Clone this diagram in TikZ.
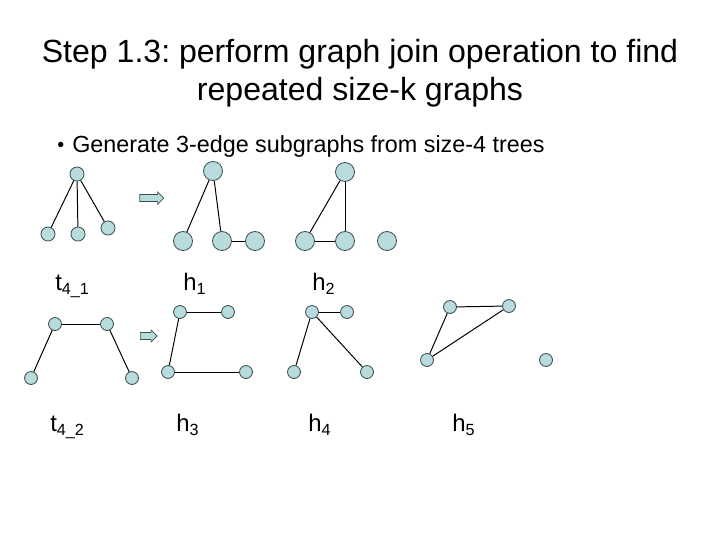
\documentclass[tikz,border=0pt]{standalone}
\usepackage{fontspec}
\setmainfont{Liberation Sans}
\frenchspacing
\usetikzlibrary{positioning,shapes.arrows}
\definecolor{vfill}{RGB}{184,220,222}
\definecolor{vline}{RGB}{60,78,80}
\tikzset{
  vtx/.style={circle,draw=vline,fill=vfill,line width=0.6pt,minimum size=10pt,inner sep=0pt},
  bigvtx/.style={vtx,minimum size=13.5pt},
  smallvtx/.style={vtx,minimum size=9.2pt},
  edge/.style={line width=0.7pt},
  lbl/.style={anchor=base west,inner sep=0pt,font=\fontsize{17}{20}\selectfont},
  joinarrow/.style={single arrow,draw=vline,fill=vfill,line width=0.5pt,inner sep=2.3pt,single arrow head extend=1.8pt}
}
\newcommand{\subtx}[1]{\raisebox{-0.35ex}{\fontsize{11.5}{13}\selectfont #1}}
\begin{document}
\begin{tikzpicture}[x=0.025cm,y=-0.025cm]
  \useasboundingbox (0,0) rectangle (720,540);
  % title and bullet line
  \node[align=center,font=\fontsize{22.8}{27}\selectfont,anchor=base] (title) at (360,100) {Step 1.3: perform graph join operation to find\\repeated size-k graphs};
  \node[anchor=base west,inner sep=0pt,font=\fontsize{14}{20}\selectfont] (bul) at (57,151) {\textbullet};
  \node[anchor=base west,inner sep=0pt,font=\fontsize{16.6}{20}\selectfont] (gen) at (72,152) {Generate 3-edge subgraphs from size-4 trees};
  % t4_1 -> h1, h2
  \node[vtx] (a0) at (77,174) {}; \node[vtx] (a1) at (48,234) {}; \node[vtx] (a2) at (78,234) {}; \node[vtx] (a3) at (108,228) {};
  \draw[edge] (a0) -- (a1); \draw[edge] (a0) -- (a2); \draw[edge] (a0) -- (a3);
  \node[joinarrow,minimum height=17pt] (arr1) at (150,198) {};
  \node[bigvtx] (b0) at (213,171) {}; \node[bigvtx] (b1) at (183,241) {}; \node[bigvtx] (b2) at (222,241) {}; \node[bigvtx] (b3) at (255,241) {};
  \draw[edge] (b0) -- (b1); \draw[edge] (b0) -- (b2); \draw[edge] (b2) -- (b3);
  \node[bigvtx] (c0) at (345,172) {}; \node[bigvtx] (c1) at (305,241) {}; \node[bigvtx] (c2) at (345,241) {}; \node[bigvtx] (c3) at (387,241) {};
  \draw[edge] (c0) -- (c1); \draw[edge] (c0) -- (c2); \draw[edge] (c1) -- (c2);
  \node[lbl] (la) at (55,290) {t\subtx{4\_1}};
  \node[lbl] (lb) at (183,290) {h\subtx{1}};
  \node[lbl] (lc) at (312,290) {h\subtx{2}};
  % t4_2 -> h3, h4, h5
  \node[smallvtx] (d0) at (55,324) {}; \node[smallvtx] (d1) at (107,324) {}; \node[smallvtx] (d2) at (31,378) {}; \node[smallvtx] (d3) at (132,378) {};
  \draw[edge] (d0) -- (d1); \draw[edge] (d0) -- (d2); \draw[edge] (d1) -- (d3);
  \node[joinarrow,minimum height=12pt] (arr2) at (147,336) {};
  \node[smallvtx] (e0) at (180,312) {}; \node[smallvtx] (e1) at (228,312) {}; \node[smallvtx] (e2) at (168,372) {}; \node[smallvtx] (e3) at (246,372) {};
  \draw[edge] (e0) -- (e1); \draw[edge] (e0) -- (e2); \draw[edge] (e2) -- (e3);
  \node[smallvtx] (f0) at (312,312) {}; \node[smallvtx] (f1) at (347,312) {}; \node[smallvtx] (f2) at (294,372) {}; \node[smallvtx] (f3) at (367,372) {};
  \draw[edge] (f0) -- (f1); \draw[edge] (f0) -- (f2); \draw[edge] (f0) -- (f3);
  \node[smallvtx] (g0) at (450,307) {}; \node[smallvtx] (g1) at (509,306) {}; \node[smallvtx] (g2) at (427,360) {}; \node[smallvtx] (g3) at (546,360) {};
  \draw[edge] (g0) -- (g1); \draw[edge] (g0) -- (g2); \draw[edge] (g2) -- (g1);
  \node[lbl] (ld) at (50,431) {t\subtx{4\_2}};
  \node[lbl] (le) at (176,431) {h\subtx{3}};
  \node[lbl] (lf) at (308,431) {h\subtx{4}};
  \node[lbl] (lg) at (452,431) {h\subtx{5}};
\end{tikzpicture}
\end{document}
